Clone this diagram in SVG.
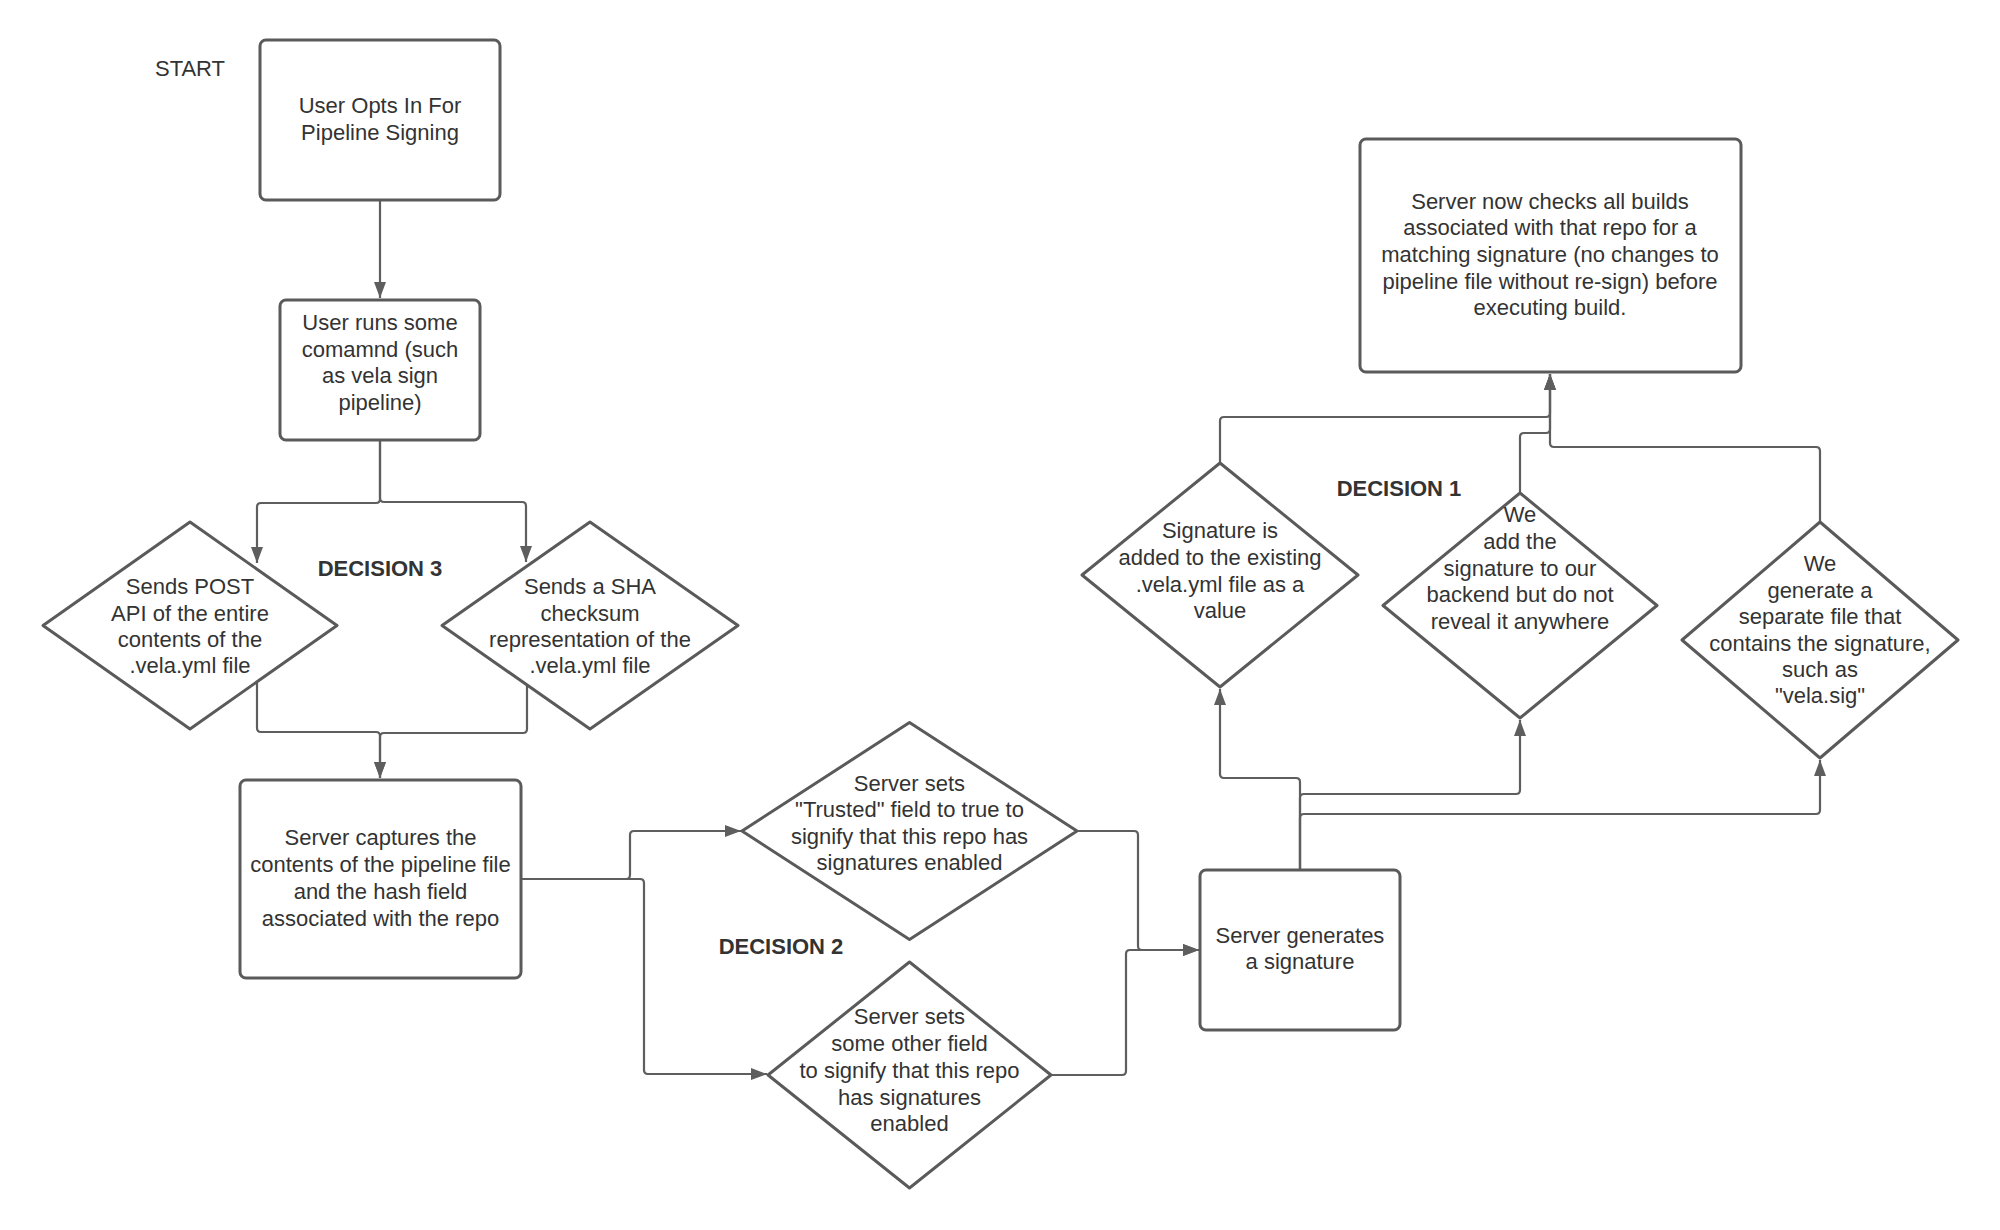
<svg xmlns="http://www.w3.org/2000/svg" width="2000" height="1230" viewBox="0 0 2000 1230">
<defs>
<style>
.shape{fill:#ffffff;stroke:#5a5a5a;stroke-width:3;stroke-linejoin:round}
.conn{fill:none;stroke:#5e5e5e;stroke-width:2.2;stroke-linejoin:round}
.t{font-family:"Liberation Sans",Arial,sans-serif;font-size:22px;fill:#333333;text-anchor:middle}
.b{font-weight:bold}
</style>
<marker id="ah" markerUnits="userSpaceOnUse" markerWidth="16" markerHeight="12" refX="16" refY="6" orient="auto">
<path d="M0,0 L16,6 L0,12 z" fill="#5e5e5e"/>
</marker>
</defs>
<rect width="2000" height="1230" fill="#ffffff"/>

<g id="connectors">
<path class="conn" d="M380,200 V298" marker-end="url(#ah)"/>
<path class="conn" d="M380,440 V499 Q380,503 376,503 H261 Q257,503 257,507 V563" marker-end="url(#ah)"/>
<path class="conn" d="M380,440 V498 Q380,502 384,502 H522 Q526,502 526,506 V562" marker-end="url(#ah)"/>
<path class="conn" d="M257,682 V728 Q257,732 261,732 H376 Q380,732 380,736 V778" marker-end="url(#ah)"/>
<path class="conn" d="M527,685 V729 Q527,733 523,733 H384 Q380,733 380,737 V778" marker-end="url(#ah)"/>
<path class="conn" d="M521,879 H626 Q630,879 630,875 V835 Q630,831 634,831 H741" marker-end="url(#ah)"/>
<path class="conn" d="M521,879 H640 Q644,879 644,883 V1070 Q644,1074 648,1074 H767" marker-end="url(#ah)"/>
<path class="conn" d="M1077,831 H1134 Q1138,831 1138,835 V946 Q1138,950 1142,950 H1199" marker-end="url(#ah)"/>
<path class="conn" d="M1051,1075 H1122 Q1126,1075 1126,1071 V954 Q1126,950 1130,950 H1199" marker-end="url(#ah)"/>
<path class="conn" d="M1300,870 V782 Q1300,778 1296,778 H1224 Q1220,778 1220,774 V689" marker-end="url(#ah)"/>
<path class="conn" d="M1300,870 V798 Q1300,794 1304,794 H1516 Q1520,794 1520,790 V720" marker-end="url(#ah)"/>
<path class="conn" d="M1300,870 V818 Q1300,814 1304,814 H1816 Q1820,814 1820,810 V760" marker-end="url(#ah)"/>
<path class="conn" d="M1220,463 V421 Q1220,417 1224,417 H1546 Q1550,417 1550,413 V374" marker-end="url(#ah)"/>
<path class="conn" d="M1520,493 V437 Q1520,433 1524,433 H1546 Q1550,433 1550,429 V374" marker-end="url(#ah)"/>
<path class="conn" d="M1820,522 V451 Q1820,447 1816,447 H1554 Q1550,447 1550,443 V374" marker-end="url(#ah)"/>
</g>

<g id="start-label">
<text class="t" x="190" y="76">START</text>
</g>

<g id="n-opt-in">
<rect class="shape" x="260" y="40" width="240" height="160" rx="6"/>
<text class="t" x="380" y="113">User Opts In For</text>
<text class="t" x="380" y="140">Pipeline Signing</text>
</g>

<g id="n-run-command">
<rect class="shape" x="280" y="300" width="200" height="140" rx="6"/>
<text class="t" x="380" y="330">User runs some</text>
<text class="t" x="380" y="356.7">comamnd (such</text>
<text class="t" x="380" y="383.4">as vela sign</text>
<text class="t" x="380" y="410">pipeline)</text>
</g>

<g id="n-send-post">
<path class="shape" d="M190,522 L337,625.5 L190,729 L43,625.5 Z"/>
<text class="t" x="190" y="594">Sends POST</text>
<text class="t" x="190" y="621">API of the entire</text>
<text class="t" x="190" y="647">contents of the</text>
<text class="t" x="190" y="673">.vela.yml file</text>
</g>

<g id="n-send-sha">
<path class="shape" d="M590,522 L738,625.5 L590,729 L442,625.5 Z"/>
<text class="t" x="590" y="594">Sends a SHA</text>
<text class="t" x="590" y="621">checksum</text>
<text class="t" x="590" y="647">representation of the</text>
<text class="t" x="590" y="673">.vela.yml file</text>
</g>

<g id="label-decision-3">
<text class="t b" x="380" y="576">DECISION 3</text>
</g>

<g id="n-capture">
<rect class="shape" x="240" y="780" width="281" height="198" rx="6"/>
<text class="t" x="380.5" y="845">Server captures the</text>
<text class="t" x="380.5" y="872">contents of the pipeline file</text>
<text class="t" x="380.5" y="899">and the hash field</text>
<text class="t" x="380.5" y="925.5">associated with the repo</text>
</g>

<g id="n-trusted">
<path class="shape" d="M909.5,722.5 L1077,831 L909.5,939.5 L742,831 Z"/>
<text class="t" x="909.5" y="790.5">Server sets</text>
<text class="t" x="909.5" y="817">"Trusted" field to true to</text>
<text class="t" x="909.5" y="843.5">signify that this repo has</text>
<text class="t" x="909.5" y="870">signatures enabled</text>
</g>

<g id="n-other-field">
<path class="shape" d="M909.5,962 L1051,1075 L909.5,1188 L768,1075 Z"/>
<text class="t" x="909.5" y="1023.5">Server sets</text>
<text class="t" x="909.5" y="1050.5">some other field</text>
<text class="t" x="909.5" y="1077.5">to signify that this repo</text>
<text class="t" x="909.5" y="1104.5">has signatures</text>
<text class="t" x="909.5" y="1130.5">enabled</text>
</g>

<g id="label-decision-2">
<text class="t b" x="781" y="954">DECISION 2</text>
</g>

<g id="n-generate">
<rect class="shape" x="1200" y="870" width="200" height="160" rx="6"/>
<text class="t" x="1300" y="942.5">Server generates</text>
<text class="t" x="1300" y="969">a signature</text>
</g>

<g id="n-sig-in-yml">
<path class="shape" d="M1220,463 L1358,575 L1220,687 L1082,575 Z"/>
<text class="t" x="1220" y="538">Signature is</text>
<text class="t" x="1220" y="565">added to the existing</text>
<text class="t" x="1220" y="591.5">.vela.yml file as a</text>
<text class="t" x="1220" y="618">value</text>
</g>

<g id="n-sig-backend">
<path class="shape" d="M1520,493 L1657,605.5 L1520,718 L1383,605.5 Z"/>
<text class="t" x="1520" y="522">We</text>
<text class="t" x="1520" y="549">add the</text>
<text class="t" x="1520" y="575.5">signature to our</text>
<text class="t" x="1520" y="602">backend but do not</text>
<text class="t" x="1520" y="629">reveal it anywhere</text>
</g>

<g id="n-sig-file">
<path class="shape" d="M1820,522 L1958,640 L1820,758 L1682,640 Z"/>
<text class="t" x="1820" y="571">We</text>
<text class="t" x="1820" y="598">generate a</text>
<text class="t" x="1820" y="624">separate file that</text>
<text class="t" x="1820" y="651">contains the signature,</text>
<text class="t" x="1820" y="677">such as</text>
<text class="t" x="1820" y="703">"vela.sig"</text>
</g>

<g id="label-decision-1">
<text class="t b" x="1399" y="496">DECISION 1</text>
</g>

<g id="n-check-builds">
<rect class="shape" x="1360" y="139" width="381" height="233" rx="6"/>
<text class="t" x="1550" y="209">Server now checks all builds</text>
<text class="t" x="1550" y="235">associated with that repo for a</text>
<text class="t" x="1550" y="262">matching signature (no changes to</text>
<text class="t" x="1550" y="289">pipeline file without re-sign) before</text>
<text class="t" x="1550" y="315">executing build.</text>
</g>
</svg>
